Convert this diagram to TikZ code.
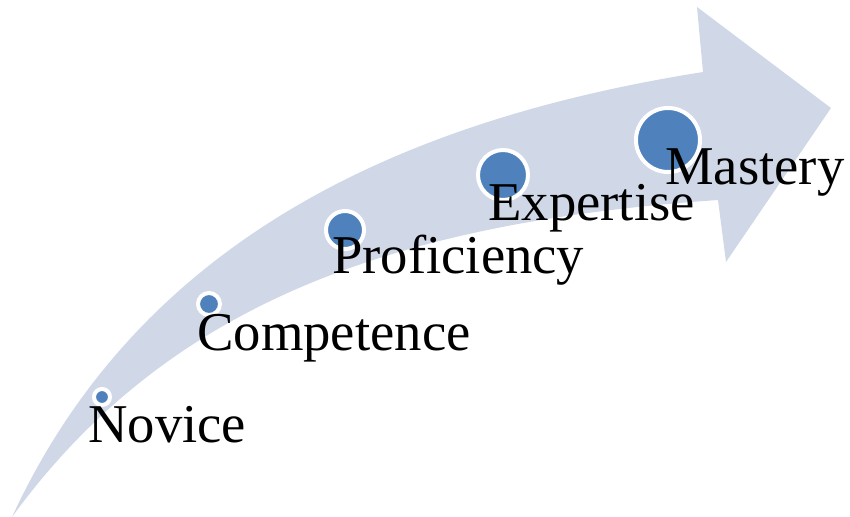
\documentclass[tikz,border=0pt]{standalone}
\usepackage{fontspec}
\setmainfont{Liberation Serif}
\definecolor{arrowfill}{RGB}{208,216,232}
\definecolor{dotblue}{RGB}{79,129,189}

\begin{document}
\begin{tikzpicture}[x=0.75pt,y=0.75pt,yscale=-1,xscale=1,
  stage/.style={circle,draw=white,line width=3pt,fill=dotblue,inner sep=0pt},
  label/.style={anchor=base west,inner sep=0pt,font=\fontsize{41}{49}\selectfont}]
\useasboundingbox (0,0) rectangle (850,517);

%Shape: Curved up arrow
\fill [arrowfill] (12,517) .. controls (140,240) and (400,120) .. (703,72) -- (697,7) -- (831,108) -- (726,262) -- (718,200) .. controls (400,222) and (170,300) .. (12,517) -- cycle ;

%Shape: Circles
\node [stage,minimum size=12pt] (novdot) at (102,397) {};
\node [stage,minimum size=16.5pt] (comdot) at (209,304) {};
\node [stage,minimum size=28.5pt] (prodot) at (345,230) {};
\node [stage,minimum size=37.5pt] (expdot) at (503,175) {};
\node [stage,minimum size=48pt] (masdot) at (668,140) {};

% Text Node
\node [label] (novice) at (88,442) {Novice};
% Text Node
\node [label] (competence) at (197,350) {Competence};
% Text Node
\node [label] (proficiency) at (332,273) {Proficiency};
% Text Node
\node [label] (expertise) at (488,220) {Expertise};
% Text Node
\node [label] (mastery) at (665,185) {Mastery};

\end{tikzpicture}
\end{document}
